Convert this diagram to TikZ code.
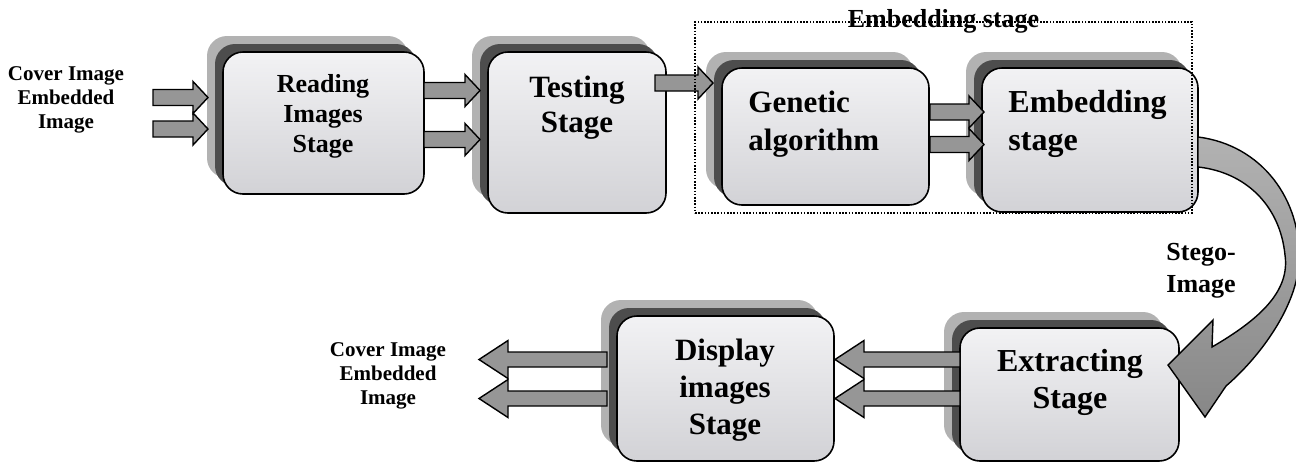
\documentclass[tikz,border=0pt]{standalone}
\usepackage{fontspec}
\setmainfont{Liberation Serif}
\usepackage{tikz}
\usetikzlibrary{calc}
\usetikzlibrary{fit}
\definecolor{arrowgray}{RGB}{150,150,150}
\definecolor{shadelight}{RGB}{178,178,178}
\definecolor{shadedark}{RGB}{77,77,77}
\definecolor{marbleA}{RGB}{242,242,244}
\definecolor{marbleB}{RGB}{210,210,214}
\definecolor{stegodark}{RGB}{135,135,135}
\tikzset{stagebox/.style={draw=black,line width=0.8pt,rounded corners=10pt,
                          inner sep=0pt,top color=marbleA,bottom color=marbleB}}
\tikzset{txt/.style 2 args={align=center,inner sep=0pt,
                            font=\fontsize{#1}{#2}\selectfont\bfseries}}
\tikzset{blockarrow/.style n args={3}{draw=black,fill=arrowgray,line width=0.7pt,
    to path={let \p1=(\tikztostart), \p2=(\tikztotarget), \n1={sign(\x2-\x1)} in
      ({\x1},{\y1+#1}) -- ({\x2-\n1*#3},{\y1+#1}) -- ({\x2-\n1*#3},{\y1+#2})
      -- ({\x2},{\y1}) -- ({\x2-\n1*#3},{\y1-#2}) -- ({\x2-\n1*#3},{\y1-#1})
      -- ({\x1},{\y1-#1}) -- cycle}}}
\tikzset{fwd/.style={blockarrow={4pt}{8pt}{7.5pt}}}
\tikzset{back/.style={blockarrow={3.75pt}{9.5pt}{14.5pt}}}

\begin{document}
\begin{tikzpicture}[x=0.5pt,y=-0.5pt]
    \tikzstyle{groupbox}=[draw=black,line width=0.8pt,dash pattern=on 0.8pt off 0.8pt,inner sep=0pt]
    \tikzstyle{stegoarrow}=[draw=black,line width=0.7pt,top color=shadelight,bottom color=stegodark]
    \useasboundingbox (0,0) rectangle (1296,463);

    % Stage boxes, each with two shadow layers behind it
    \foreach \name/\xa/\ya/\xb/\yb in {read/223/52/424/194,test/488/52/666/213,
                                      gen/722/68/929/205,emb/982/68/1198/212,
                                      extr/960/328/1179/461,disp/617/316/834/461}
    {
        \fill[shadelight,rounded corners=10pt] ({\xa-16},{\ya-16}) rectangle ({\xb-16},{\yb-16});
        \fill[shadedark,rounded corners=10pt] ({\xa-8},{\ya-8}) rectangle ({\xb-8},{\yb-8});
        \node[stagebox,fit={(\xa,\ya) (\xb,\yb)}] (\name) {};
    }

    % Texts
    \node[txt={10.5pt}{12pt}] (in-lbl) at (66,100) {Cover Image\\Embedded\\Image};
    \node[txt={13pt}{15pt}] (read-t) at (323,116) {Reading\\Images\\Stage};
    \node[txt={15.5pt}{17.5pt}] (test-t) at (577,108) {Testing\\Stage};
    \node[txt={15.5pt}{19pt},align=left,anchor=west] (gen-t) at (748,124) {Genetic\\algorithm};
    \node[txt={16pt}{19pt},align=left,anchor=west] (emb-t) at (1008,124) {Embedding\\stage};
    \node[txt={16pt}{18.5pt}] (extr-t) at (1070,382) {Extracting\\Stage};
    \node[txt={15.5pt}{18.5pt}] (disp-t) at (725,390) {Display\\images\\Stage};
    \node[txt={10.5pt}{12pt}] (out-lbl) at (388,376) {Cover Image\\Embedded\\Image};
    \node[txt={13pt}{16pt},align=left,anchor=west] (stego-t) at (1166,271) {Stego-\\Image};

    % Block arrows going right
    \foreach \a/\xa/\xb/\y in {in1/153/208/97.5,in2/153/208/129,rt1/424/480/90.5,
                              rt2/424/480/139.5,tg/655/713/83,ge1/930/984/112,
                              ge2/930/984/144.5}
    {
        \coordinate (\a-s) at (\xa,\y);
        \coordinate (\a-e) at (\xb,\y);
        \draw[fwd] (\a-s) to (\a-e);
    }

    % Block arrows going left
    \foreach \a/\xa/\xb/\y in {ed1/960/835/359.5,ed2/960/835/398.5,
                              out1/607/479/359.5,out2/607/479/398.5}
    {
        \coordinate (\a-s) at (\xa,\y);
        \coordinate (\a-e) at (\xb,\y);
        \draw[back] (\a-s) to (\a-e);
    }

    % Curved arrow from embedding to extracting
    \draw[stegoarrow] (1198,137) .. controls (1262,145) and (1302,200) .. (1299,262)
        .. controls (1297,305) and (1262,355) .. (1226,386)
        -- (1205,417) -- (1168,365) -- (1213,320) -- (1212,347)
        .. controls (1262,318) and (1290,290) .. (1285,255)
        .. controls (1280,205) and (1245,172) .. (1198,167) -- cycle;

    % Dotted group round the embedding part
    \node[groupbox,fit={(695,22) (1192,213)}] (grp) {};
    \node[txt={13pt}{15pt}] (grp-lbl) at (grp.north) {Embedding stage};
\end{tikzpicture}
\end{document}
